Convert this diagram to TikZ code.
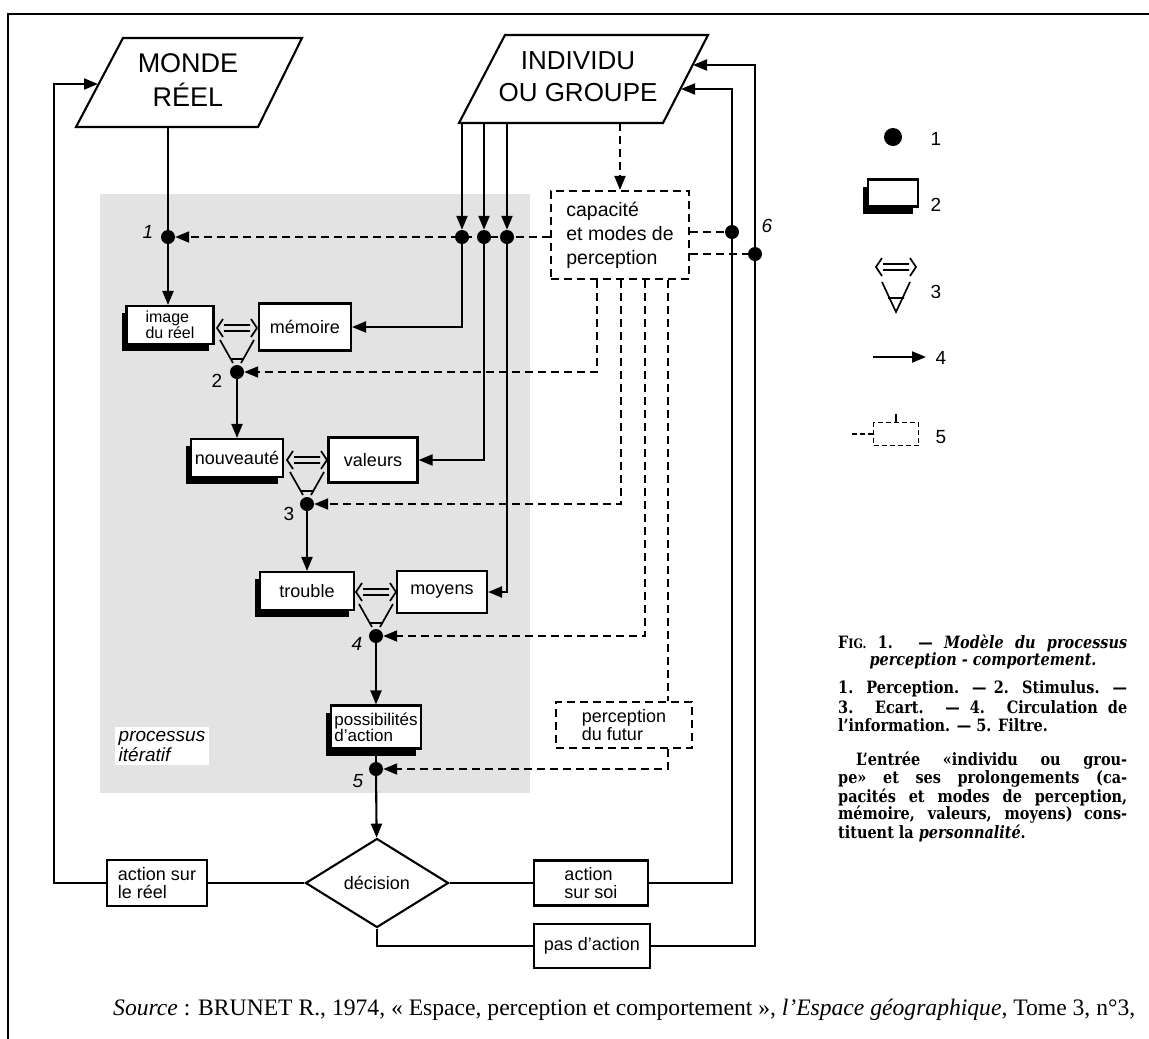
\documentclass[tikz,border=0pt]{standalone}
\usepackage{fontspec}
\setmainfont{Liberation Serif}
\setsansfont{Liberation Sans}
\newfontfamily\capfont[FakeStretch=0.85]{DejaVu Serif}
\usetikzlibrary{arrows.meta}
\usetikzlibrary{shapes.geometric}
\usetikzlibrary{shadows}
\usetikzlibrary{calc}

\tikzset{
  box/.style={draw,line width=2.1pt,fill=white,inner sep=2pt,align=left,font=\sffamily\fontsize{18}{18}\selectfont},
  stimbox/.style={box,drop shadow={shadow xshift=-5pt,shadow yshift=-7pt,opacity=1,fill=black}},
  filterbox/.style={box,dash pattern=on 8pt off 5pt},
  dot/.style={circle,fill,inner sep=0pt,minimum size=14pt},
  arr/.style={-{Triangle[length=14pt,width=11pt]}},
  flow/.style={line width=2.1pt},
  filt/.style={line width=2pt,dash pattern=on 8pt off 5pt},
  num/.style={font=\sffamily\fontsize{19}{19}\selectfont},
  captext/.style={anchor=west,inner sep=0pt,font=\capfont\bfseries\fontsize{17}{18}\selectfont},
}

\begin{document}
\begin{tikzpicture}[x=1pt,y=-1pt]
	\useasboundingbox (0,0) rectangle (1149,1039);
	% frame and shaded zone
	\draw[line width=2.5pt] (8,1039) -- (8,14) -- (1149,14);
	\fill[black!11] (100,194) rectangle (530,793);
	\node[fill=white,font=\sffamily\itshape\fontsize{19}{20}\selectfont,align=left,inner sep=4pt] (iter) at (162,746) {processus\\itératif};

	% the two inputs
	\draw[flow,fill=white] (123,38) -- (302,38) -- (258,127) -- (76,127) -- cycle;
	\node[font=\sffamily\fontsize{27}{34}\selectfont,align=center] (monde) at (188,80) {MONDE\\RÉEL};
	\draw[flow,fill=white] (505,35) -- (708,35) -- (663,123) -- (459,123) -- cycle;
	\node[font=\sffamily\fontsize{26}{32}\selectfont,align=center] (indiv) at (578,77) {INDIVIDU\\OU GROUPE};
	\coordinate (mondeB) at (168,127);
	\coordinate (mondeL) at (98,84);
	\coordinate (indB4) at (620,123);
	\coordinate (indR1) at (693,65);
	\coordinate (indR2) at (681,89);
	\coordinate (loopL) at (54,84);
	\coordinate (rr1) at (755,65);
	\coordinate (rr2) at (732,89);

	% points
	\node[dot] (d1) at (168,237) {};
	\foreach \i/\x in {1/462,2/484,3/507} \node[dot] (t\i) at (\x,237) {};
	\node[dot] (d2) at (237,372) {};
	\node[dot] (d3) at (307,504) {};
	\node[dot] (d4) at (376,636) {};
	\node[dot] (d5) at (376,769) {};
	\node[dot] (s1) at (732,232) {};
	\node[dot] (s2) at (755,254) {};
	\node[num] (l1) at (148,232) {\itshape 1};
	\node[num] (l2) at (217,381) {2};
	\node[num] (l3) at (289,514) {3};
	\node[num] (l4) at (357,644) {\itshape 4};
	\node[num] (l5) at (358,781) {\itshape 5};
	\node[num] (l6) at (767,226) {\itshape 6};

	% boxes
	\node[stimbox,minimum width=87pt,minimum height=38pt,font=\sffamily\fontsize{16}{15}\selectfont] (image) at (170,325) {image\\du réel};
	\node[box,minimum width=92pt,minimum height=47pt] (memoire) at (305,327) {mémoire};
	\node[stimbox,minimum width=92pt,minimum height=38pt] (nouv) at (237,458) {nouveauté};
	\node[box,minimum width=89pt,minimum height=45pt] (valeurs) at (373,460) {valeurs};
	\node[stimbox,minimum width=94pt,minimum height=38pt] (trouble) at (307,591) {trouble};
	\node[box,minimum width=90pt,minimum height=42pt] (moyens) at (442,592) {moyens};
	\node[stimbox,minimum width=90pt,minimum height=43pt,font=\sffamily\fontsize{17}{16}\selectfont] (poss) at (376,727) {possibilités\\d’action};
	\node[filterbox,minimum width=138pt,minimum height=88pt,font=\sffamily\fontsize{19.5}{24}\selectfont] (capa) at (620,235) {capacité\\et modes de\\perception};
	\node[filterbox,minimum width=136pt,minimum height=46pt] (futur) at (624,725) {perception\\du futur};
	\node[box,minimum width=100pt,minimum height=46pt] (actreel) at (157,883) {action sur\\le réel};
	\node[box,shape=diamond,minimum width=143pt,minimum height=89pt,inner sep=0pt] (decision) at (377,883) {décision};
	\node[box,minimum width=114pt,minimum height=45pt] (actsoi) at (591,883) {action\\sur soi};
	\node[box,minimum width=116pt,minimum height=44pt] (pasact) at (592,946) {pas d’action};

	% comparators
	\foreach \cx/\cy in {237/328,307/460,376/592}
		\draw[line width=1.7pt] (\cx-14,\cy-9) -- (\cx-20,\cy) -- (\cx-14,\cy+9)
			(\cx+14,\cy-9) -- (\cx+20,\cy) -- (\cx+14,\cy+9)
			(\cx-13,\cy-3) -- (\cx+13,\cy-3) (\cx-13,\cy+3) -- (\cx+13,\cy+3)
			(\cx-17,\cy+12) -- (\cx-4,\cy+35) (\cx+17,\cy+12) -- (\cx+4,\cy+35)
			(\cx-7,\cy+31) -- (\cx+7,\cy+31);

	% information flows
	\draw[flow] (mondeB) -- (d1);
	\draw[flow,arr] (d1) -- (d1 |- image.north);
	\foreach \i/\x in {1/462,2/484,3/507} {
		\coordinate (b\i) at (\x,123);
		\draw[flow,arr] (b\i) -- (t\i);
	}
	\draw[flow,arr] (t1) |- (memoire);
	\draw[flow,arr] (t2) |- (valeurs);
	\draw[flow,arr] (t3) |- (moyens);
	\draw[flow,arr] (d2) -- (nouv);
	\draw[flow,arr] (d3) -- (trouble);
	\draw[flow,arr] (d4) -- (poss);
	\draw[flow] (poss) -- (d5);
	\draw[flow,arr] (d5) -- (decision);

	% filters
	\draw[filt,arr] (capa.west |- d1) -- (d1);
	\draw[filt,arr] (indB4) -- (capa);
	\draw[filt] (capa.east |- s1) -- (s1);
	\draw[filt] (capa.east |- s2) -- (s2);
	\foreach \dx/\d in {47/d2,71/d3,95/d4}
		\draw[filt,arr] ($(capa.south west)+(\dx,0)$) |- (\d);
	\coordinate (cb4) at ($(capa.south west)+(118,0)$);
	\draw[filt] (cb4) -- (cb4 |- futur.north);
	\draw[filt,arr] (futur.south -| cb4) |- (d5);

	% decisions and loops back
	\draw[flow] (decision) -- (actreel);
	\draw[flow,arr] (actreel) -| (loopL) -- (mondeL);
	\draw[flow] (decision) -- (actsoi);
	\draw[flow,arr] (actsoi) -| (rr2) -- (indR2);
	\draw[flow] (decision) |- (pasact);
	\draw[flow,arr] (pasact) -| (rr1) -- (indR1);

	% legend
	\node[dot,minimum size=18pt] (lg1) at (893,137) {};
	\node[stimbox,minimum width=50pt,minimum height=27pt] (lg2) at (893,193) {};
	\draw[line width=1.7pt] (882,258) -- (876,267) -- (882,276) (910,258) -- (916,267) -- (910,276)
		(883,264) -- (909,264) (883,270) -- (909,270)
		(882,282) -- (896,312) -- (910,282) (888,298) -- (904,298);
	\coordinate (lgA) at (873,357);
	\coordinate (lgB) at (926,357);
	\draw[flow,arr] (lgA) -- (lgB);
	\node[draw,line width=1.7pt,dash pattern=on 5pt off 3pt,minimum width=45pt,minimum height=23pt] (lg5) at (896,434) {};
	\draw[line width=1.7pt,dash pattern=on 5pt off 3pt] (lg5.west) -- ++(-21,0);
	\draw[line width=1.7pt] (lg5.north) -- ++(0,-8);
	\node[num] (n1) at (936,139) {1};
	\node[num] (n2) at (936,205) {2};
	\node[num] (n3) at (936,292) {3};
	\node[num] (n4) at (941,358) {4};
	\node[num] (n5) at (941,437) {5};

	% caption
	\node[captext] (c1) at (838,643) {\makebox[289pt][s]{F{\fontsize{13}{13}\selectfont IG.} 1. — \textit{Modèle du processus}}};
	\node[captext,anchor=center] (c2) at (983,661) {\textit{perception - comportement.}};
	\node[captext] (c3) at (838,689) {\makebox[289pt][s]{1. Perception. — 2. Stimulus. —}};
	\node[captext] (c4) at (838,707) {\makebox[289pt][s]{3. Ecart. — 4. Circulation de}};
	\node[captext] (c5) at (838,725) {l’information. — 5. Filtre.};
	\node[captext] (c6) at (838,761) {\makebox[289pt][s]{\hspace*{18pt}L’entrée «individu ou grou-}};
	\node[captext] (c7) at (838,779) {\makebox[289pt][s]{pe» et ses prolongements (ca-}};
	\node[captext] (c8) at (838,797) {\makebox[289pt][s]{pacités et modes de perception,}};
	\node[captext] (c9) at (838,815) {\makebox[289pt][s]{mémoire, valeurs, moyens) cons-}};
	\node[captext] (c10) at (838,833) {tituent la \textit{personnalité}.};

	% source
	\node[anchor=base west,inner sep=0pt] (src) at (113,1015) {\resizebox{1022pt}{!}{\fontsize{22}{26}\selectfont\textit{Source} : BRUNET R., 1974, « Espace, perception et comportement », \textit{l’Espace géographique}, Tome 3, n°3,}};
\end{tikzpicture}
\end{document}
